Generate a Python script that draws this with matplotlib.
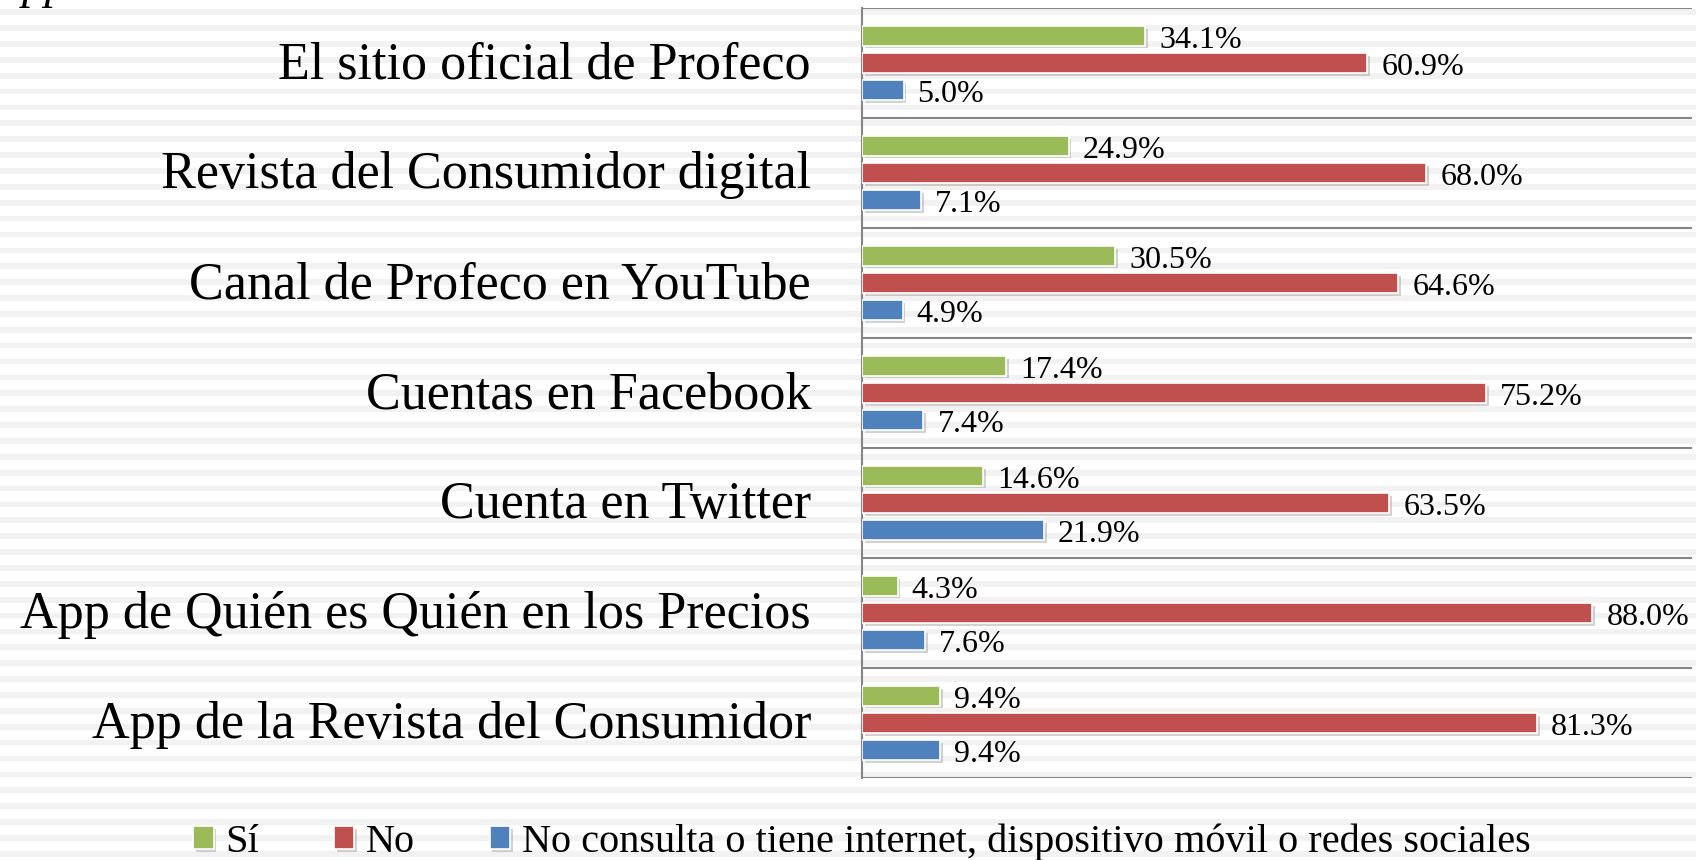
import numpy as np
import matplotlib.pyplot as plt
import matplotlib.patheffects as pe

categories = [
    'El sitio oficial de Profeco',
    'Revista del Consumidor digital',
    'Canal de Profeco en YouTube',
    'Cuentas en Facebook',
    'Cuenta en Twitter',
    'App de Quién es Quién en los Precios',
    'App de la Revista del Consumidor',
]
si = [34.1, 24.9, 30.5, 17.4, 14.6, 4.3, 9.4]
no = [60.9, 68.0, 64.6, 75.2, 63.5, 88.0, 81.3]
no_consulta = [5.0, 7.1, 4.9, 7.4, 21.9, 7.6, 9.4]
series_names = ['Sí', 'No', 'No consulta o tiene internet, dispositivo móvil o redes sociales']
colors = ['#9BBB59', '#C0504D', '#4F81BD']

W, H = 1696, 860
plt.rcParams['font.family'] = ['Liberation Serif', 'DejaVu Serif']
fig = plt.figure(figsize=(W / 100, H / 100), dpi=100)

# lined background
bg = fig.add_axes([0, 0, 1, 1], zorder=-5)
bg.set_xlim(0, 1)
bg.set_ylim(H, 0)
bg.axis('off')
for y0 in np.arange(9.3, H, 15.88):
    bg.axhspan(y0, y0 + 5.7, color='#f2f2f2', lw=0)

# title cut off at the top edge, only descenders visible
fig.text(0.013, 1 + 2 / H, 'pp', fontsize=34, style='italic', va='baseline', ha='left')

ax = fig.add_axes([862 / W, 1 - 778 / H, 830 / W, 770 / H])
ax.patch.set_alpha(0)

y = np.arange(len(categories))
h = 0.18
step = 0.248
shadow = [pe.SimplePatchShadow(offset=(2, -2), shadow_rgbFace='#808080', alpha=0.35), pe.Normal()]
for k, (vals, col) in enumerate(zip([si, no, no_consulta], colors)):
    pos = y + (k - 1) * step
    bars = ax.barh(pos, vals, height=h, color=col, edgecolor='white', linewidth=1.2,
                   label=series_names[k], zorder=3)
    for b in bars:
        b.set_path_effects(shadow)
    for p, v in zip(pos, vals):
        ax.text(v + 1.7, p + 0.04, f'{v:.1f}%', va='center', ha='left', fontsize=23, zorder=4)

# category names
ytrans = ax.get_yaxis_transform()
for yy, name in zip(y, categories):
    ax.text(-51 / 830, yy + 0.02, name, transform=ytrans, ha='right', va='center',
            fontsize=37.5, clip_on=False)

ax.set_xlim(0, 100)
ax.set_ylim(len(categories) - 0.5, -0.5)
ax.set_yticks(np.arange(-0.5, len(categories)))
ax.set_yticklabels([])
ax.tick_params(axis='y', length=0)
ax.set_xticks([])
ax.grid(axis='y', color='#868686', linewidth=1.5, zorder=1)
for s in ['top', 'right', 'bottom']:
    ax.spines[s].set_visible(False)
ax.spines['left'].set_color('#868686')
ax.spines['left'].set_linewidth(1.5)

fig.legend(loc='center', bbox_to_anchor=(862 / W, 1 - 842 / H), ncol=3, frameon=False,
           fontsize=29, handlelength=0.5, handleheight=0.5, handletextpad=0.3,
           columnspacing=1.85, borderpad=0)

fig.savefig('out.png', dpi=100)
